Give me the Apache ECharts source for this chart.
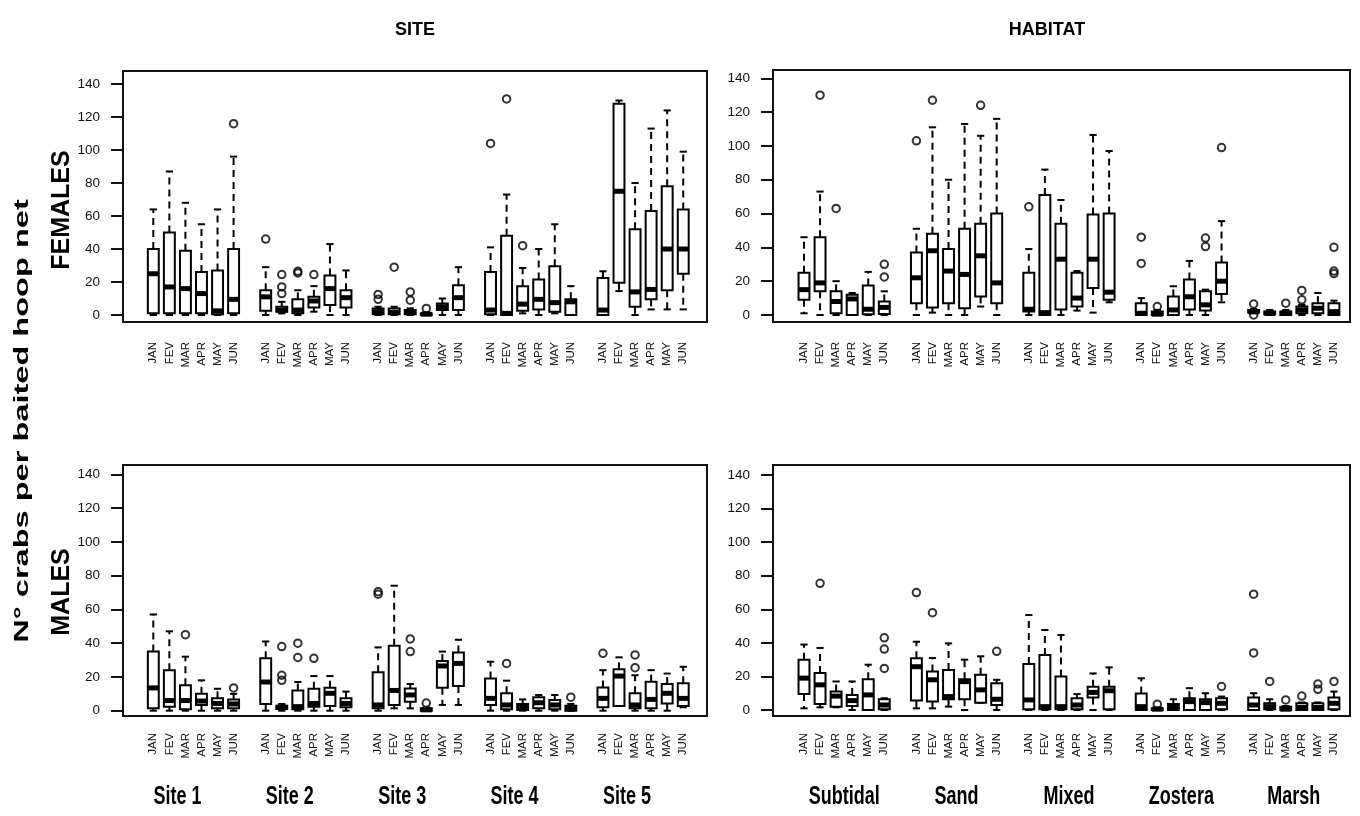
<!DOCTYPE html>
<html><head><meta charset="utf-8">
<script src="https://cdn.jsdelivr.net/npm/echarts@6/dist/echarts.min.js"></script>
<style>html,body{margin:0;padding:0;background:#fff}#c{width:1360px;height:816px}</style>
</head><body><div id="c"></div><script>
const months = ['JAN','FEV','MAR','APR','MAY','JUN'];
const sites = ['Site 1','Site 2','Site 3','Site 4','Site 5'];
const habitats = ['Subtidal','Sand','Mixed','Zostera','Marsh'];
const yTicks = [0,20,40,60,80,100,120,140];

// each row: [lower whisker, Q1, median, Q3, upper whisker]; 6 months per group, 5 groups
const femalesSite = [
  [0,1,25,40,64],[0,1,17,50,87],[0,1,16,39,68],[0,1,13,26,55],[0,0.5,2.5,27,64],[0,1,9.5,40,96],
  [0,2.6,11,15,29],[1,2,3,5,8],[0,1,3,9.5,15],[2,4.5,8.5,11,17.5],[0,6,16,24,43],[0,4.6,10.5,15,27],
  [0,0.5,2,4,5],[0,0.5,1.5,4,5],[0,0.5,1.5,3,4],[0,0,0.5,1,1.5],[0,3,5,7,10],[0,3,10.5,18,29],
  [0,0.5,3,26,41],[0,0,1,48,73],[1,2.6,6.6,17.5,28.5],[0,3.4,9.5,21.5,40],[1,2,7.5,29.5,55],[0,0,8,9.5,17.5],
  [0,0,3,22.5,26.5],[14.5,19.5,75,128,130],[0,5,14,52,80],[3.4,9.5,15.5,63,113],[3.4,15,40,78,124],[3.4,25,40,64,99]
];
// [box index, value]
const femalesSiteOutliers = [
  [5,116],[6,46],[7,13],[7,17],[7,24.5],[8,25.5],[8,26.5],[9,24.5],[12,9.5],[12,12.5],[13,29],
  [14,9],[14,14],[15,4],[18,104],[19,131],[20,42]
];

const femalesHabitat = [
  [1,9,15,25,46],[0,14,19,46,73],[0,1,8,14,20],[0,0,9.5,12,13],[0,0.5,3.4,17.5,25.5],[0,0.6,4.5,8,14],
  [0,7,22,37,51],[1.4,4.5,38,48,111],[0,7,26,39,80],[0,4,24,51,113],[5,11,35,54,106],[0,7,19,60,116],
  [0,2,3.4,25,39],[0,0,1.4,71,86],[0,3.3,33,54,68],[2.6,5,10,25,26],[1.4,16,33,59.5,106.5],[7.5,9,13.5,60,97],
  [0,0,1,7,10],[0,0,0.5,2,3],[0,0,3,11,17],[0,3.3,10.8,21,32],[0,2.6,6,14,15],[7.5,12.4,20,31,55.5],
  [1,1.5,2,3,3.5],[0,0.5,1,2,3],[0,0,1,2,3],[0,1,3,5,6],[0,1,4,7,13],[0,0,2,7,8.5]
];
const femalesHabitatOutliers = [
  [1,130],[2,63],[5,22.5],[5,30],[6,103],[7,127],[10,124],[12,64],[18,30.5],[18,46],[19,5],
  [22,40.5],[22,45.5],[23,99],[24,0],[24,6.5],[26,7],[27,9],[27,14.5],[29,24.5],[29,26],[29,40]
];

const malesSite = [
  [0,1.4,13.5,35,57],[0,2.4,6,24,47],[0,0.8,6,15,32],[0,3.4,5.7,10,18],[0,1.4,4.3,7.3,13],[0,1.4,4,6.7,10],
  [0,4,17,31,41],[0,1,2,3,4],[0,0.8,2.4,12,17],[0,2.4,4.3,13,20.5],[0,2.8,10.3,13.6,20.5],[0,2,4.3,7.3,11.3],
  [0,1.4,3.4,22.7,37.5],[1.4,3.4,12,38.5,74],[1.4,5.3,9.3,13.2,15.8],[0,0,0.5,1.5,2],[3.4,13.6,26.5,29.4,35],[3.4,14.6,28,34.4,42],
  [0,3.4,7.3,19,29],[0,0.8,3.4,10.3,17.8],[0,0.4,2,4,6.7],[0,1.4,4.7,7.9,9.3],[0,0.8,3.4,6.3,9.3],[0,0,1.5,3,4],
  [0,2,7.3,13.8,24],[2.8,2.8,20.5,24.5,31.6],[0,1.4,3.4,10.3,21],[0,1.4,6.7,17.2,24],[0,4.3,10.3,15.8,22],[2,2.8,7.3,16.2,26]
];
const malesSiteOutliers = [
  [2,45],[5,13.5],[7,18],[7,21],[7,38],[8,31.5],[8,40],[9,31],[12,69],[12,70.5],[14,35],[14,42.5],
  [15,4.5],[19,28],[23,8],[24,34],[26,25.5],[26,33]
];

const malesHabitat = [
  [1,9.5,19,30,39],[1.6,3.6,15,22,37],[1.6,2,8.3,11,17],[0,2.4,5.6,9,17],[0,0,9,18.3,27],[0,0.5,3,6.4,7],
  [1,5.6,25.8,30.8,40.7],[1,5,18,23,31],[2,6.4,8,23.8,39.7],[0,6.4,16.9,18.3,30],[4.4,4.4,12,21,32],[0,3,6.4,15.9,18],
  [0,0.4,6,27.4,56.6],[0,0.4,2,32.8,47.7],[0,0.4,2,20,44.7],[0,0.4,3,7,9.5],[0,7.5,10.5,13.9,21.8],[0,0.4,11.5,13.9,25.4],
  [0,0,2,9.9,18.9],[0,0,0.5,1,1.5],[0,0,1.5,3.6,6.4],[0,0,5,7,13],[0,0,4.4,6.4,10],[0,0.4,4,7,8],
  [0,0,3,7.5,10],[0,0.4,2,4,6.4],[0,0,0.5,2,2.4],[0,0,1.5,4,4.5],[0,0,1.5,4,4.5],[0,0.4,4,7.5,11]
];
const malesHabitatOutliers = [
  [1,75.5],[5,24.8],[5,36.3],[5,43],[6,70],[7,58],[11,35],[19,3.5],[23,14],[24,34],[24,69],
  [25,17],[26,6],[27,8.3],[28,12.3],[28,15.5],[29,17]
];

// ---------- drawing ----------
const posOf = i => Math.floor(i / 6) * 7 + (i % 6) + 1;
const monthPositions = Array.from({length: 30}, (_, i) => posOf(i));
const boxData = rows => rows.map((r, i) => [posOf(i)].concat(r));
const outData = list => list.map(([i, v]) => [posOf(i), v]);

const BOX_W = 0.68, STAPLE_W = 0.45;
function renderBox(params, api) {
  const x = api.value(0);
  const lo = api.coord([x, api.value(1)]);
  const q1 = api.coord([x, api.value(2)]);
  const md = api.coord([x, api.value(3)]);
  const q3 = api.coord([x, api.value(4)]);
  const hi = api.coord([x, api.value(5)]);
  const w = api.size([BOX_W, 0])[0];
  const sw = api.size([STAPLE_W, 0])[0];
  const cx = md[0];
  const solid = {stroke: '#000', lineWidth: 2};
  const dash = {stroke: '#000', lineWidth: 2, lineDash: [7, 5]};
  return {type: 'group', children: [
    {type: 'line', shape: {x1: cx, y1: q3[1], x2: cx, y2: hi[1]}, style: dash},
    {type: 'line', shape: {x1: cx, y1: q1[1], x2: cx, y2: lo[1]}, style: dash},
    {type: 'line', shape: {x1: cx - sw / 2, y1: hi[1], x2: cx + sw / 2, y2: hi[1]}, style: solid},
    {type: 'line', shape: {x1: cx - sw / 2, y1: lo[1], x2: cx + sw / 2, y2: lo[1]}, style: solid},
    {type: 'rect', shape: {x: cx - w / 2, y: q3[1], width: w, height: q1[1] - q3[1]}, style: {fill: '#fff', stroke: '#000', lineWidth: 2}},
    {type: 'line', shape: {x1: cx - w / 2, y1: md[1], x2: cx + w / 2, y2: md[1]}, style: {stroke: '#000', lineWidth: 5}}
  ]};
}

const panels = [
  {boxes: femalesSite, outliers: femalesSiteOutliers, rect: [123, 71, 584, 251], x: [-0.887, 35.48], y: [-4.24, 147.9], lm: 20},
  {boxes: femalesHabitat, outliers: femalesHabitatOutliers, rect: [773, 70, 577, 252], x: [-0.93, 35.0], y: [-4.14, 144.9], lm: 20},
  {boxes: malesSite, outliers: malesSiteOutliers, rect: [123, 465, 584, 251], x: [-0.887, 35.48], y: [-3.14, 145.5], lm: 17, groups: sites, anchor: 2.5},
  {boxes: malesHabitat, outliers: malesHabitatOutliers, rect: [773, 465, 577, 251], x: [-0.93, 35.0], y: [-3.57, 146.0], lm: 17, groups: habitats, anchor: 3.5}
];

const grids = [], xAxes = [], yAxes = [], series = [];
panels.forEach((p, k) => {
  grids.push({left: p.rect[0], top: p.rect[1], width: p.rect[2], height: p.rect[3], show: true,
    borderColor: '#111', borderWidth: 2, backgroundColor: 'transparent', containLabel: false});
  xAxes.push({type: 'value', gridIndex: k, min: p.x[0], max: p.x[1], position: 'bottom',
    axisLine: {show: false, onZero: false}, axisTick: {show: false}, splitLine: {show: false},
    axisLabel: {customValues: monthPositions, formatter: v => months[(Math.round(v) - 1) % 7],
      rotate: 90, margin: p.lm, fontFamily: 'Liberation Sans, Arial, sans-serif', fontSize: 11.5, color: '#111'}});
  yAxes.push({type: 'value', gridIndex: k, min: p.y[0], max: p.y[1], position: 'left',
    axisLine: {show: true, onZero: false, lineStyle: {color: '#111', width: 2}}, splitLine: {show: false},
    axisTick: {show: true, inside: false, customValues: yTicks, length: 12, lineStyle: {color: '#111', width: 2}},
    axisLabel: {customValues: yTicks, margin: 23, fontSize: 13.5, fontFamily: 'Liberation Sans, Arial, sans-serif', color: '#111'}});
  series.push({type: 'custom', xAxisIndex: k, yAxisIndex: k, data: boxData(p.boxes), renderItem: renderBox,
    encode: {x: 0, y: [1, 2, 3, 4, 5]}, z: 2, silent: true});
  series.push({type: 'scatter', xAxisIndex: k, yAxisIndex: k, data: outData(p.outliers), symbol: 'circle', symbolSize: 7.5,
    itemStyle: {color: 'rgba(0,0,0,0)', borderColor: '#000', borderWidth: 2}, z: 3, silent: true});
});

const baseGraphics = [
  {type: 'text', x: 415, y: 30, style: {text: 'SITE', font: 'bold 18px "Liberation Sans", Arial, sans-serif', fill: '#000', textAlign: 'center', textVerticalAlign: 'middle'}},
  {type: 'text', x: 1047, y: 30, style: {text: 'HABITAT', font: 'bold 18px "Liberation Sans", Arial, sans-serif', fill: '#000', textAlign: 'center', textVerticalAlign: 'middle'}},
  {type: 'text', x: 22, y: 421, rotation: Math.PI / 2, scaleX: 1.55, scaleY: 1, style: {text: 'N° crabs per baited hoop net', font: 'bold 21px "Liberation Sans", Arial, sans-serif', fill: '#000', textAlign: 'center', textVerticalAlign: 'middle'}},
  {type: 'text', x: 62, y: 210, rotation: Math.PI / 2, style: {text: 'FEMALES', font: 'bold 25px "Liberation Sans", Arial, sans-serif', fill: '#000', textAlign: 'center', textVerticalAlign: 'middle'}},
  {type: 'text', x: 62, y: 592, rotation: Math.PI / 2, style: {text: 'MALES', font: 'bold 25px "Liberation Sans", Arial, sans-serif', fill: '#000', textAlign: 'center', textVerticalAlign: 'middle'}}
];

const chart = echarts.init(document.getElementById('c'));
chart.setOption({
  animation: false,
  backgroundColor: '#fff',
  grid: grids, xAxis: xAxes, yAxis: yAxes, series: series,
  graphic: baseGraphics
});

// condensed bold group names under the male panels, placed through the x axis scale
const groupGraphics = [];
panels.forEach((p, k) => {
  if (!p.groups) return;
  p.groups.forEach((name, g) => {
    const px = chart.convertToPixel({xAxisIndex: k}, p.anchor + 7 * g);
    groupGraphics.push({type: 'text', x: px, y: 797, scaleX: 0.72, scaleY: 1,
      style: {text: name, font: 'bold 25px "Liberation Sans", Arial, sans-serif', fill: '#000', textAlign: 'center', textVerticalAlign: 'middle'}});
  });
});
chart.setOption({graphic: baseGraphics.concat(groupGraphics)});
</script></body></html>
